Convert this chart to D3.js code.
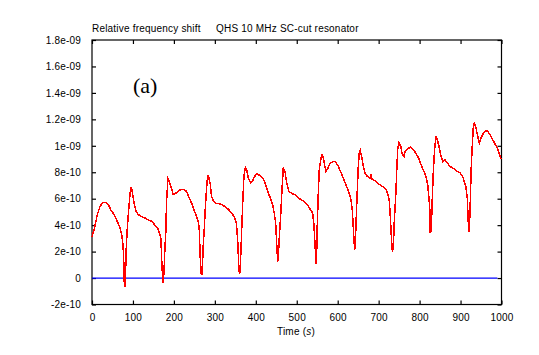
<!DOCTYPE html>
<html>
<head>
<meta charset="utf-8">
<script src="https://cdn.jsdelivr.net/npm/d3@7"></script>
<style>
  html, body { margin: 0; padding: 0; background: #fff; }
  svg { display: block; }
  text { font-family: "Liberation Sans", Arial, sans-serif; fill: #000; }
</style>
</head>
<body>
<svg id="chart" width="539" height="355"></svg>
<script>
// ---- data (values in units of 1e-10) ----
const times = [0,7,13,19.5,26,34,40,46,54,60,67,72.5,75,77,79,81.5,83,86,89.5,93,96,99,102.5,107.5,113,121,129,137.5,145.5,154,160,166,168.5,170,172.5,174,176,178,180.5,182,185.5,189,193.7,198.5,203.5,211,216.5,224.6,231,237.7,243.5,249,255.7,260,262,264.5,267,269.5,271,274,276.7,280,282.5,285.7,289,292,297,302,308.5,316.7,324.6,333,341,347.5,352.5,355.7,358,360,362,364.7,368,371,374.5,377.7,381.7,387.5,391.5,396.4,403,410,417,422.5,429,435.5,441,445,448.5,451,453.5,455,457.5,461,464,467,471.3,475.5,481,487.6,495.7,503.8,512,518.5,525.7,534,539,542,544,545.5,547,548.7,550,552.6,555,558.5,561.7,565,568,571.4,576,581,587.6,594,600.7,607,613.7,620,626.7,631.7,635.6,638,640,641.5,643,645.4,648,650.3,652.7,655,658.5,662.5,666.7,672,679,681,682,687,695,703,711,718,723,726,728.5,731,733.5,736,738,741.6,744,746.5,749.7,754,757,762,765,772.5,778,784.6,791,797.8,804,810.7,815.6,819.8,822,824.7,826,828.6,831,833.5,836.8,840,843.3,847.4,851.5,856.4,862,867.7,874,882,890.6,898.7,905,909,913,916.5,918,920,922,924,926,928.6,931,933.5,937,941,945.6,950,955.6,961.5,966,972,978.5,985,991.5,996.3,999];
const shift = [3.1,3.9,4.8,5.4,5.7,5.7,5.55,5.15,4.8,4.4,3.9,3.3,2.65,1.9,-0.5,-0.7,1.9,3.65,5.15,6.4,6.9,6.4,5.7,5.05,4.8,4.65,4.55,4.4,4.3,4.0,3.8,3.3,2.9,1.5,0,-0.4,0.6,2.15,3.65,5.8,7.5,7.3,6.8,6.3,6.4,6.55,6.7,6.7,6.55,6.05,5.65,5.15,4.65,4.2,3.65,1.4,0.25,0.25,2.15,3.65,5.3,6.9,7.8,7.55,7.05,6.15,5.8,5.65,5.65,5.55,5.4,5.2,4.9,4.65,4.15,2.9,1.15,0.3,0.6,2.9,5.65,7.7,8.4,8.2,7.55,7.2,7.3,7.65,7.9,7.75,7.55,7.2,6.55,6.05,5.55,4.9,4.15,2.65,1.25,1.65,3.15,4.9,6.7,8.3,8.05,7.2,6.55,6.4,6.3,6.05,5.9,5.8,5.55,5.15,4.9,4.0,2.9,2.0,1.1,1.9,3.9,6.4,8.2,8.95,9.4,9.05,8.55,8.05,8.3,8.65,8.8,8.8,8.5,8.05,7.55,7.05,6.55,6.05,5.15,3.9,2.75,2.15,2.65,4.65,6.7,8.45,9.45,9.65,9.2,8.45,7.95,7.7,7.55,7.85,7.5,7.45,7.25,7.05,6.9,6.7,6.3,5.8,4.65,3.15,2.0,2.4,4.15,6.15,7.95,9.7,10.25,9.95,9.4,9.2,9.6,9.8,9.9,9.7,9.45,9.05,8.55,8.05,7.7,7.05,6.3,5.4,3.4,3.65,6.05,8.05,9.8,10.7,10.45,9.95,9.3,8.8,8.95,8.7,8.45,8.3,8.1,7.95,7.7,7.3,6.9,6.05,4.8,3.5,4.0,6.05,8.3,9.95,11.35,11.7,11.45,10.85,10.2,10.6,10.95,11.15,11.1,10.85,10.45,10.1,9.7,9.2,9.0];
const zeroTimes = [0, 990];
const zeroValues = [0, 0];
const xTicks = [0,100,200,300,400,500,600,700,800,900,1000];
const yTicks = [-2,0,2,4,6,8,10,12,14,16,18];
const yTickLabels = ["-2e-10","0","2e-10","4e-10","6e-10","8e-10","1e-09","1.2e-09","1.4e-09","1.6e-09","1.8e-09"];

// ---- layout ----
const mLeft = 92, mRight = 501.5, mTop = 40, mBottom = 304.5;
const svg = d3.select("#chart");
const x = d3.scaleLinear().domain([0, 1000]).range([mLeft, mRight]);
const y = d3.scaleLinear().domain([-2, 18]).range([mBottom, mTop]);

// frame
svg.append("rect").attr("x", mLeft).attr("y", mTop)
  .attr("width", mRight - mLeft).attr("height", mBottom - mTop)
  .attr("fill", "none").attr("stroke", "#000").attr("stroke-width", 1.2);

const tickLen = 4;
const xAxisB = d3.axisBottom(x).tickValues(xTicks).tickSize(-tickLen).tickPadding(9).tickFormat(d3.format("d"));
const gB = svg.append("g").attr("transform", `translate(0,${mBottom})`).call(xAxisB);
const xAxisT = d3.axisTop(x).tickValues(xTicks).tickSize(-tickLen).tickFormat("");
const gT = svg.append("g").attr("transform", `translate(0,${mTop})`).call(xAxisT);
const yAxisL = d3.axisLeft(y).tickValues(yTicks).tickSize(-tickLen).tickPadding(11)
  .tickFormat((d, i) => yTickLabels[i]);
const gL = svg.append("g").attr("transform", `translate(${mLeft},0)`).call(yAxisL);
const yAxisR = d3.axisRight(y).tickValues(yTicks).tickSize(-tickLen).tickFormat("");
const gR = svg.append("g").attr("transform", `translate(${mRight},0)`).call(yAxisR);
[gB, gT, gL, gR].forEach(g => {
  g.select(".domain").remove();
  g.selectAll("line").attr("stroke", "#000").attr("stroke-width", 1.2);
  g.selectAll("text").style("font-family", '"Liberation Sans", Arial, sans-serif')
    .style("font-size", "10px").style("letter-spacing", "0.2px").attr("fill", "#000");
});

// zero line
const line = d3.line().x(d => x(d[0])).y(d => y(d[1]));
svg.append("path").datum(zeroTimes.map((t, i) => [t, zeroValues[i]]))
  .attr("d", line).attr("fill", "none").attr("stroke", "#0000ff").attr("stroke-width", 1.3);

// data line
svg.append("path").datum(times.map((t, i) => [t, shift[i]]))
  .attr("d", line).attr("fill", "none").attr("stroke", "#ff0000").attr("stroke-width", 1.5)
  .attr("stroke-linejoin", "miter").attr("shape-rendering", "crispEdges");

// texts
svg.append("text").attr("x", 92).attr("y", 32).style("font-size", "10px").style("letter-spacing", "0.2px").text("Relative frequency shift");
svg.append("text").attr("x", 216).attr("y", 32).style("font-size", "10px").style("letter-spacing", "0.2px").text("QHS 10 MHz SC-cut resonator");
svg.append("text").attr("x", 133).attr("y", 93)
  .style("font-family", '"Liberation Serif", "Times New Roman", serif').style("font-size", "22px").text("(a)");
const xl = svg.append("text").attr("x", 277).attr("y", 335).style("font-size", "10px").style("letter-spacing", "0.2px");
xl.append("tspan").text("Time (");
xl.append("tspan").style("font-style", "italic").text("s");
xl.append("tspan").text(")");
</script>
</body>
</html>
